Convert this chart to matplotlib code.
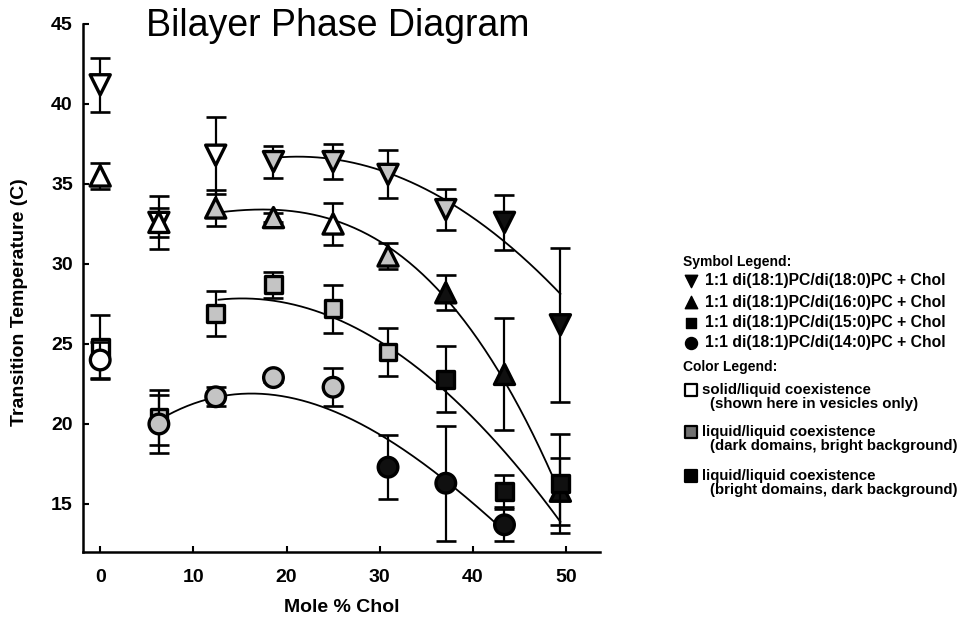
import numpy as np
import matplotlib
matplotlib.use("Agg")
import matplotlib.pyplot as plt

plt.rcParams['font.family'] = ['Liberation Sans', 'DejaVu Sans']

# ---------------- data ----------------
chol = [0, 6.3, 12.4, 18.6, 25.0, 30.9, 37.1, 43.4, 49.4]

t18 = [41.2, 32.6, 36.8, 36.4, 36.4, 35.6, 33.4, 32.6, 26.2]
e18 = [1.7, 1.65, 2.4, 1.0, 1.1, 1.5, 1.3, 1.7, 4.8]
f18 = ['w', 'w', 'w', 'g', 'g', 'g', 'g', 'k', 'k']

t16 = [35.5, 32.6, 33.5, 32.9, 32.5, 30.5, 28.2, 23.1, 15.8]
e16 = [0.8, 0.9, 1.1, 0.3, 1.3, 0.8, 1.1, 3.5, 2.1]
f16 = ['w', 'w', 'g', 'g', 'w', 'g', 'k', 'k', 'k']

t15 = [24.8, 20.4, 26.9, 28.7, 27.2, 24.5, 22.8, 15.8, 16.3]
e15 = [2.0, 1.7, 1.4, 0.8, 1.5, 1.5, 2.05, 1.0, 3.1]
f15 = ['w', 'g', 'g', 'g', 'g', 'g', 'k', 'k', 'k']

chol14 = [0, 6.3, 12.4, 18.6, 25.0, 30.9, 37.1, 43.4]
t14 = [24.0, 20.0, 21.7, 22.9, 22.3, 17.3, 16.3, 13.7]
e14 = [1.1, 1.8, 0.6, 0.3, 1.2, 2.0, 3.6, 1.0]
f14 = ['w', 'g', 'g', 'g', 'g', 'k', 'k', 'k']

# points
fit18_x = [18.7, 24.9, 30.9, 37.2, 43.2, 46.1, 49.4]
fit18_y = [36.6, 36.6, 35.8, 33.8, 31.6, 29.9, 28.2]
fit16_x = [12.7, 18.8, 21.5, 26.8, 30.9, 37.2, 43.2, 46.1, 49.4]
fit16_y = [33.1, 33.55, 33.4, 32.5, 30.4, 28.1, 23.0, 19.8, 15.5]
fit15_x = [12.7, 18.7, 24.7, 27.6, 37.2, 46.1, 49.4]
fit15_y = [27.8, 27.6, 26.9, 25.8, 22.1, 16.2, 14.0]
fit14_x = [7.2, 14.0, 18.2, 21.5, 26.8, 30.9, 37.2, 43.2]
fit14_y = [20.6, 21.7, 21.8, 21.5, 20.6, 19.0, 16.2, 13.5]

x_ticks = [0, 10, 20, 30, 40, 50]
y_ticks = [15, 20, 25, 30, 35, 40, 45]

symbol_labels = ['1:1 di(18:1)PC/di(18:0)PC + Chol',
                 '1:1 di(18:1)PC/di(16:0)PC + Chol',
                 '1:1 di(18:1)PC/di(15:0)PC + Chol',
                 '1:1 di(18:1)PC/di(14:0)PC + Chol']
color_labels = [('solid/liquid coexistence', '(shown here in vesicles only)'),
                ('liquid/liquid coexistence', '(dark domains, bright background)'),
                ('liquid/liquid coexistence', '(bright domains, dark background)')]

# ---------------- style ----------------
FILL = {'w': 'white', 'g': '#c4c4c4', 'k': '#101010'}

fig = plt.figure(figsize=(9.66, 6.21), dpi=100)
W, H = 966, 621
ax = fig.add_axes([82.5 / W, 1 - 552 / H, 517 / W, 528 / H])
ax.set_xlim(-1.9, 53.6)
ax.set_ylim(12, 45)

def draw_fit(xs, ys, deg=3):
    c = np.polyfit(xs, ys, deg)
    xx = np.linspace(min(xs), max(xs), 200)
    ax.plot(xx, np.polyval(c, xx), color='black', lw=1.3, zorder=2)

draw_fit(fit18_x, fit18_y, 2)
draw_fit(fit16_x, fit16_y, 3)
draw_fit(fit15_x, fit15_y, 3)
draw_fit(fit14_x, fit14_y, 3)

def series(x, y, e, f, marker, s, z):
    ax.errorbar(x, y, yerr=e, fmt='none', ecolor='black', elinewidth=1.6,
                capsize=7.5, capthick=1.9, zorder=z)
    ax.scatter(x, y, marker=marker, s=s, facecolors=[FILL[c] for c in f],
               edgecolors='black', linewidths=2.4, zorder=z + 0.5)

series(chol, t18, e18, f18, 'v', 210, 3)
series(chol, t16, e16, f16, '^', 210, 4)
series(chol, t15, e15, f15, 's', 145, 5)
series(chol14, t14, e14, f14, 'o', 200, 6)

for side in ('top', 'right'):
    ax.spines[side].set_visible(False)
for side in ('left', 'bottom'):
    ax.spines[side].set_linewidth(1.8)
ax.set_xticks(x_ticks)
ax.set_yticks(y_ticks)
ax.tick_params(direction='in', length=4, width=1.5, labelsize=14)
ax.tick_params(axis='x', pad=12)
ax.tick_params(axis='y', pad=7)
for lab in ax.get_xticklabels() + ax.get_yticklabels():
    lab.set_fontweight('bold')

fig.text(342 / W, 1 - 607 / H, 'Mole % Chol', ha='center', va='center',
         fontsize=14, fontweight='bold')
fig.text(20 / W, 1 - 302 / H, 'Transition Temperature (C)', ha='center',
         va='center', rotation=90, fontsize=14, fontweight='bold')
fig.text(338 / W, 1 - 26 / H, 'Bilayer Phase Diagram', ha='center',
         va='center', fontsize=27)

# ---------------- legend block ----------------
lax = fig.add_axes([0, 0, 1, 1])
lax.set_xlim(0, W)
lax.set_ylim(H, 0)
lax.axis('off')
lax.patch.set_alpha(0)

lax.text(683, 262, 'Symbol Legend:', ha='left', va='center', fontsize=10,
         fontweight='bold')
sym_markers = ['v', '^', 's', 'o']
sym_sizes = [80, 80, 60, 75]
row_y = [281, 302, 323, 343]
for m, sz, yy, lab in zip(sym_markers, sym_sizes, row_y, symbol_labels):
    lax.scatter([691], [yy], marker=m, s=sz, color='black')
    lax.text(705, yy, lab, ha='left', va='center', fontsize=11.3,
             fontweight='bold')

lax.text(683, 367, 'Color Legend:', ha='left', va='center', fontsize=10,
         fontweight='bold')
box_y = [390, 432, 476]
box_fc = ['white', '#707070', 'black']
for yy, fc, (l1, l2) in zip(box_y, box_fc, color_labels):
    lax.scatter([691], [yy], marker='s', s=70, facecolor=fc,
                edgecolor='black', linewidths=1.6)
    lax.text(702, yy, l1, ha='left', va='center', fontsize=10.8,
             fontweight='bold')
    lax.text(710, yy + 14, l2, ha='left', va='center', fontsize=10.8,
             fontweight='bold')

fig.savefig('out.png', dpi=100)
